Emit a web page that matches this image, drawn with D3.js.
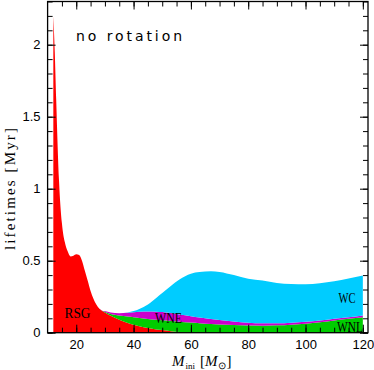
<!DOCTYPE html>
<html lang="en">
<head>
    <meta charset="UTF-8">
    <title>lifetimes</title>
    <script src="https://cdn.jsdelivr.net/npm/d3@7/dist/d3.min.js"></script>
    <style>
        body { margin: 0; background: #fff; }
        svg { display: block; }
    </style>
</head>
<body>
<script>

    // initial masses (Msun)
    var masses = [12, 12.5, 13, 14, 15, 16, 17, 18, 19, 20,
                  21, 22, 23, 24, 25, 26, 27, 28, 29, 30,
                  32, 35, 38, 40, 42, 45, 48, 50, 53, 56,
                  60, 63, 67, 70, 75, 80, 85, 90, 95, 100,
                  105, 110, 115, 120];

    // duration of each phase (Myr), stacked bottom to top
    var rsg = [2.2, 1.95, 1.62, 1.05, 0.76, 0.63, 0.565, 0.53, 0.535, 0.545,
               0.54, 0.50, 0.43, 0.36, 0.29, 0.235, 0.195, 0.168, 0.152, 0.14,
               0.117, 0.09, 0.068, 0.055, 0.044, 0.032, 0.023, 0.018, 0.01, 0.005,
               0, 0, 0, 0, 0, 0, 0, 0, 0, 0,
               0, 0, 0, 0];
    var wnl = [0, 0, 0, 0, 0, 0, 0, 0, 0, 0,
               0, 0, 0, 0, 0, 0, 0, 0, 0, 0.005,
               0.013, 0.03, 0.044, 0.052, 0.058, 0.064, 0.067, 0.068, 0.071, 0.071,
               0.07, 0.065, 0.06, 0.057, 0.053, 0.05, 0.049, 0.051, 0.056, 0.063,
               0.073, 0.085, 0.097, 0.108];
    var wne = [0, 0, 0, 0, 0, 0, 0, 0, 0, 0,
               0, 0, 0, 0, 0, 0, 0, 0, 0, 0.005,
               0.01, 0.015, 0.026, 0.035, 0.043, 0.051, 0.056, 0.057, 0.055, 0.051,
               0.045, 0.041, 0.035, 0.031, 0.025, 0.019, 0.016, 0.014, 0.013, 0.013,
               0.012, 0.012, 0.011, 0.012];
    var wc  = [0, 0, 0, 0, 0, 0, 0, 0, 0, 0,
               0, 0, 0, 0, 0, 0, 0, 0, 0, 0,
               0, 0, 0.002, 0.008, 0.02, 0.048, 0.097, 0.132, 0.189, 0.243,
               0.295, 0.316, 0.331, 0.334, 0.322, 0.306, 0.297, 0.281, 0.269, 0.26,
               0.258, 0.26, 0.268, 0.278];

    var phases = ["RSG", "WNL", "WNE", "WC"];
    var colors = ["#ff0000", "#00cc00", "#cc00cc", "#00ccff"];

    var xTicks = [20, 40, 60, 80, 100, 120];
    var yTicks = [0, 0.5, 1, 1.5, 2];

    // canvas ("top" is taken by window, so plot box names are prefixed)
    var width = 374;
    var height = 370;
    var boxL = 47.6, boxR = 368, boxT = 1.5, boxB = 332.7;

    var svg = d3.select("body")
        .append("svg")
        .attr("width", width)
        .attr("height", height);

    var x = d3.scaleLinear().domain([10, 121.8]).range([boxL, boxR]);
    var y = d3.scaleLinear().domain([0, 2.3]).range([boxB, boxT]);

    var table = masses.map(function (m, i) {
        return {m: m, RSG: rsg[i], WNL: wnl[i], WNE: wne[i], WC: wc[i]};
    });
    var layers = d3.stack().keys(phases)(table);

    var area = d3.area()
        .curve(d3.curveMonotoneX)
        .x(function (d) { return x(d.data.m); })
        .y0(function (d) { return y(d[0]); })
        .y1(function (d) { return y(d[1]); });

    svg.append("clipPath").attr("id", "box")
        .append("rect")
        .attr("x", boxL).attr("y", boxT)
        .attr("width", boxR - boxL).attr("height", boxB - boxT);

    svg.append("g")
        .attr("clip-path", "url(#box)")
        .selectAll("path")
        .data(layers)
        .enter()
        .append("path")
        .attr("d", area)
        .attr("fill", function (d, i) { return colors[i]; });

    // axes, ticks inside on all four sides
    var minorX = d3.range(15, 121, 5);
    var minorY = d3.range(0, 2.31, 0.1);

    function styleAxis(g) {
        g.select(".domain").remove();
        g.selectAll("line").attr("stroke", "#000").attr("stroke-width", 1);
        g.selectAll("text")
            .attr("fill", "#000")
            .style("font-family", "'Liberation Sans', Arial, sans-serif")
            .style("font-size", "13px");
    }

    svg.append("g").attr("transform", "translate(0," + boxB + ")")
        .call(d3.axisBottom(x).tickValues(minorX).tickSize(-5).tickFormat(""))
        .call(styleAxis);
    svg.append("g").attr("transform", "translate(0," + boxB + ")")
        .call(d3.axisBottom(x).tickValues(xTicks).tickSize(-8).tickPadding(7.5)
            .tickFormat(d3.format("d")))
        .call(styleAxis);
    svg.append("g").attr("transform", "translate(0," + boxT + ")")
        .call(d3.axisTop(x).tickValues(minorX).tickSize(-5).tickFormat(""))
        .call(styleAxis);
    svg.append("g").attr("transform", "translate(0," + boxT + ")")
        .call(d3.axisTop(x).tickValues(xTicks).tickSize(-8).tickFormat(""))
        .call(styleAxis);

    svg.append("g").attr("transform", "translate(" + boxL + ",0)")
        .call(d3.axisLeft(y).tickValues(minorY).tickSize(-5).tickFormat(""))
        .call(styleAxis);
    svg.append("g").attr("transform", "translate(" + boxL + ",0)")
        .call(d3.axisLeft(y).tickValues(yTicks).tickSize(-8).tickPadding(7)
            .tickFormat(function (d) { return String(d); }))
        .call(styleAxis);
    svg.append("g").attr("transform", "translate(" + boxR + ",0)")
        .call(d3.axisRight(y).tickValues(minorY).tickSize(-5).tickFormat(""))
        .call(styleAxis);
    svg.append("g").attr("transform", "translate(" + boxR + ",0)")
        .call(d3.axisRight(y).tickValues(yTicks).tickSize(-8).tickFormat(""))
        .call(styleAxis);

    // frame
    svg.append("rect")
        .attr("x", boxL).attr("y", boxT)
        .attr("width", boxR - boxL).attr("height", boxB - boxT)
        .attr("fill", "none")
        .attr("stroke", "#000")
        .attr("stroke-width", 1.3);

    // labels
    var serif = "'Liberation Serif', 'Times New Roman', serif";
    var sans = "'DejaVu Sans', sans-serif";

    svg.append("text")
        .attr("x", 76).attr("y", 41)
        .attr("textLength", 106).attr("lengthAdjust", "spacing")
        .style("font-family", sans).style("font-size", "14px")
        .text("no rotation");

    var phaseLabels = [
        {t: "RSG", x: 64.5, y: 318, w: 26},
        {t: "WNE", x: 155, y: 322.5, w: 27},
        {t: "WC", x: 338.5, y: 303, w: 17},
        {t: "WNL", x: 337, y: 331.5, w: 26}
    ];
    svg.selectAll(".phase")
        .data(phaseLabels)
        .enter()
        .append("text")
        .attr("x", function (d) { return d.x; })
        .attr("y", function (d) { return d.y; })
        .attr("textLength", function (d) { return d.w; })
        .attr("lengthAdjust", "spacingAndGlyphs")
        .style("font-family", serif).style("font-size", "14px")
        .text(function (d) { return d.t; });

    // y label
    svg.append("text")
        .attr("transform", "translate(15,189) rotate(-90)")
        .attr("text-anchor", "middle")
        .attr("textLength", 122).attr("lengthAdjust", "spacing")
        .style("font-family", serif).style("font-size", "15px")
        .text("lifetimes [Myr]");

    // x label
    var xl = svg.append("text")
        .attr("x", 172).attr("y", 366)
        .style("font-family", serif).style("font-size", "15px");
    xl.append("tspan").style("font-style", "italic").text("M");
    xl.append("tspan").attr("dy", 3).attr("dx", 1).style("font-size", "9px").text("ini");
    xl.append("tspan").attr("dy", -3).attr("dx", 5).text("[");
    xl.append("tspan").style("font-style", "italic").text("M");
    xl.append("tspan").attr("dy", 3).style("font-size", "10px").text("\u2299");
    xl.append("tspan").attr("dy", -3).attr("dx", 1).text("]");

</script>
</body>
</html>
